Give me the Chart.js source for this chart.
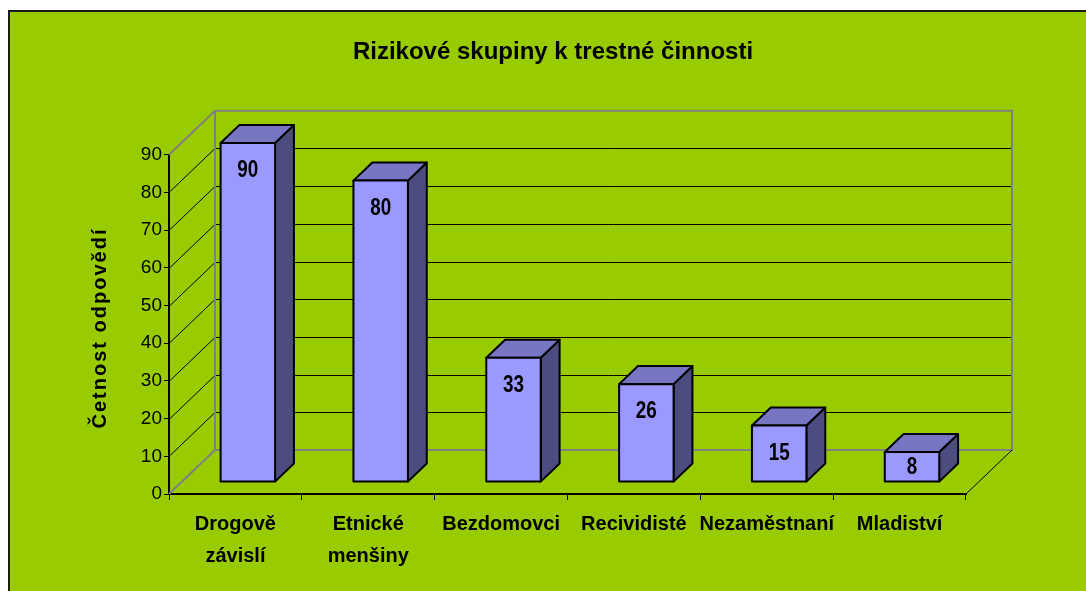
<!DOCTYPE html>
<html>
<head>
<meta charset="utf-8">
<script src="https://cdn.jsdelivr.net/npm/chart.js@4.4.1/dist/chart.umd.min.js"></script>
<style>
  body { margin: 0; background: #ffffff; }
  #box {
    position: absolute; left: 8px; top: 10px; width: 1078px; height: 581px;
    border-left: 2px solid #1a1a1a; border-top: 2px solid #1a1a1a;
    background: #99CC00;
  }
</style>
</head>
<body>
<div id="box"><canvas id="riskChart"></canvas></div>
<script>
const categories = [['Drogově', 'závislí'], ['Etnické', 'menšiny'], 'Bezdomovci', 'Recividisté', 'Nezaměstnaní', 'Mladiství'];
const answerCounts = [90, 80, 33, 26, 15, 8];
const yTicks = [0, 10, 20, 30, 40, 50, 60, 70, 80, 90];

const FONT = '"Liberation Sans", Arial, sans-serif';
const DEPTH_X = 46, DEPTH_Y = -44;
const BAR_FRONT = 0.27, BAR_BACK = 0.68;

const box3d = {
  id: 'box3d',
  beforeDatasetsDraw(chart) {
    const ctx = chart.ctx;
    const x = chart.scales.x, y = chart.scales.y;
    const L = x.left, R = x.right;
    const y0 = y.getPixelForValue(yTicks[0]);
    const yTop = y.getPixelForValue(yTicks[yTicks.length - 1]);
    ctx.save();
    ctx.lineWidth = 1;
    // gridlines on the left wall and the back wall
    yTicks.forEach((v, i) => {
      if (i === 0 || i === yTicks.length - 1) return;
      const py = Math.round(y.getPixelForValue(v)) + 0.5;
      ctx.strokeStyle = '#000000';
      ctx.beginPath();
      ctx.moveTo(L, py);
      ctx.lineTo(L + DEPTH_X, py + DEPTH_Y);
      ctx.lineTo(R + DEPTH_X, py + DEPTH_Y);
      ctx.stroke();
    });
    // wall edges
    ctx.strokeStyle = '#808080';
    ctx.lineWidth = 2;
    ctx.beginPath();
    ctx.moveTo(L, yTop);
    ctx.lineTo(L + DEPTH_X, yTop + DEPTH_Y);
    ctx.lineTo(R + DEPTH_X, yTop + DEPTH_Y);
    ctx.lineTo(R + DEPTH_X, y0 + DEPTH_Y);
    ctx.lineTo(L + DEPTH_X, y0 + DEPTH_Y);
    ctx.lineTo(L + DEPTH_X, yTop + DEPTH_Y);
    ctx.moveTo(L, y0);
    ctx.lineTo(L + DEPTH_X, y0 + DEPTH_Y);
    ctx.stroke();
    // floor right edge
    ctx.strokeStyle = '#000000';
    ctx.lineWidth = 1;
    ctx.beginPath();
    ctx.moveTo(R, y0);
    ctx.lineTo(R + DEPTH_X, y0 + DEPTH_Y);
    ctx.stroke();
    ctx.restore();
  },
  afterDatasetsDraw(chart) {
    const ctx = chart.ctx;
    const meta = chart.getDatasetMeta(0);
    const fx = DEPTH_X * BAR_FRONT, fy = DEPTH_Y * BAR_FRONT;
    const dx = DEPTH_X * (BAR_BACK - BAR_FRONT), dy = DEPTH_Y * (BAR_BACK - BAR_FRONT);
    ctx.save();
    ctx.lineWidth = 2;
    ctx.lineJoin = 'round';
    ctx.strokeStyle = '#000000';
    meta.data.forEach((bar, i) => {
      const half = bar.width / 2;
      const l = bar.x - half + fx, r = bar.x + half + fx;
      const t = bar.y + fy, b = bar.base + fy;
      // side
      ctx.fillStyle = '#4C4C80';
      ctx.beginPath();
      ctx.moveTo(r, b); ctx.lineTo(r + dx, b + dy); ctx.lineTo(r + dx, t + dy); ctx.lineTo(r, t); ctx.closePath();
      ctx.fill(); ctx.stroke();
      // top
      ctx.fillStyle = '#7676C2';
      ctx.beginPath();
      ctx.moveTo(l, t); ctx.lineTo(l + dx, t + dy); ctx.lineTo(r + dx, t + dy); ctx.lineTo(r, t); ctx.closePath();
      ctx.fill(); ctx.stroke();
      // front
      ctx.fillStyle = '#9999FF';
      ctx.fillRect(l, t, r - l, b - t);
      ctx.strokeRect(l, t, r - l, b - t);
      // value label, squeezed like the narrow font of the original
      const h = b - t;
      ctx.save();
      ctx.translate((l + r) / 2, t + Math.min(27, h / 2));
      ctx.scale(0.82, 1);
      ctx.fillStyle = '#000000';
      ctx.font = 'bold 23px ' + FONT;
      ctx.textAlign = 'center';
      ctx.textBaseline = 'middle';
      ctx.fillText(String(answerCounts[i]), 0, 1);
      ctx.restore();
    });
    ctx.restore();
  },
  afterDraw(chart) {
    const ctx = chart.ctx;
    ctx.save();
    ctx.translate(90, 316);
    ctx.rotate(-Math.PI / 2);
    ctx.font = 'bold 20px ' + FONT;
    ctx.letterSpacing = '2px';
    ctx.fillStyle = '#000000';
    ctx.textAlign = 'center';
    ctx.textBaseline = 'middle';
    ctx.fillText('Četnost odpovědí', 0, 0);
    ctx.restore();
  }
};

new Chart(document.getElementById('riskChart'), {
  type: 'bar',
  data: {
    labels: categories,
    datasets: [{
      label: 'Četnost odpovědí',
      data: answerCounts,
      backgroundColor: 'rgba(0,0,0,0)',
      borderWidth: 0,
      barPercentage: 0.41,
      categoryPercentage: 1
    }]
  },
  options: {
    responsive: true,
    maintainAspectRatio: false,
    animation: false,
    layout: { padding: { left: 8, right: 0, top: 0, bottom: 0 } },
    plugins: {
      legend: { display: false },
      tooltip: { enabled: false },
      title: {
        display: true,
        text: 'Rizikové skupiny k trestné činnosti',
        color: '#000000',
        font: { family: FONT, size: 24, weight: 'bold', lineHeight: 1.2 },
        padding: { top: 26, bottom: 88 }
      }
    },
    scales: {
      x: {
        grid: { display: true, drawOnChartArea: false, color: '#000000', tickLength: 6, offset: true },
        border: { display: true, color: '#000000', width: 2 },
        ticks: {
          color: '#000000', maxRotation: 0, autoSkip: false, padding: 8,
          font: { family: FONT, size: 20, weight: 'bold', lineHeight: 1.6 }
        },
        afterFit(scale) { scale.height = 99; }
      },
      y: {
        min: 0, max: 90,
        afterBuildTicks(scale) { scale.ticks = yTicks.map(v => ({ value: v })); },
        grid: { display: true, drawOnChartArea: false, color: '#000000', tickLength: 5 },
        border: { display: true, color: '#000000', width: 2 },
        ticks: {
          color: '#000000', padding: 2,
          font: { family: FONT, size: 19 }
        },
        afterFit(scale) { scale.width = 151; }
      },
      spacer: {
        position: 'right',
        display: true,
        grid: { display: false },
        border: { display: false },
        ticks: { display: false },
        afterFit(scale) { scale.width = 122; }
      }
    }
  },
  plugins: [box3d]
});
</script>
</body>
</html>
